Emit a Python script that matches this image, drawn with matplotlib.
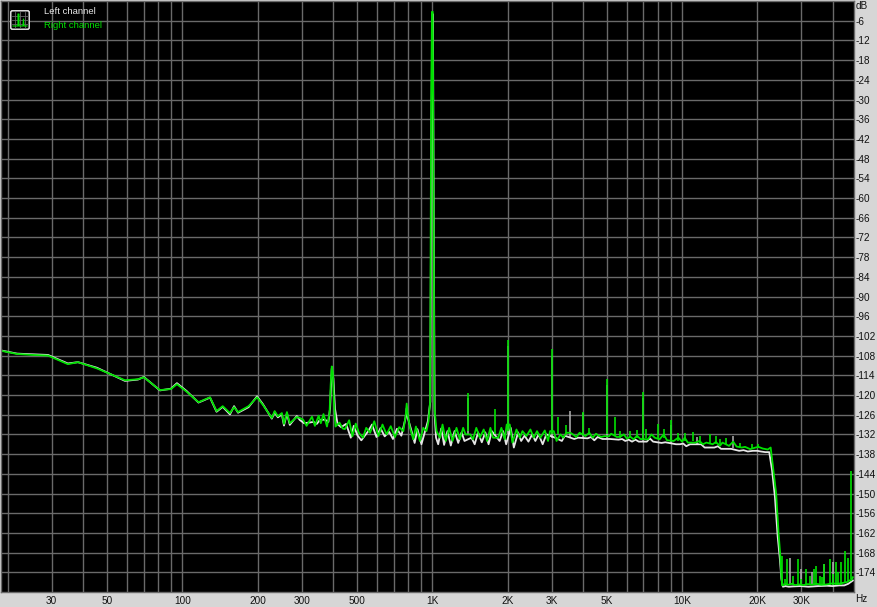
# imports
import matplotlib
matplotlib.use("Agg")
import matplotlib.pyplot as plt
from matplotlib.patches import FancyBboxPatch

# Values, (Hz, dB) pairs
right_curve = [
    (19, -106.6), (21.8, -107.5), (25.2, -107.8), (29, -108), (34.8, -110.6), (38.2, -110), (45.5, -111.9), (58.9, -115.5), (66.4, -115.2), (70.1, -114.6),
    (81.3, -118.5), (89.9, -118.2), (95.1, -116.7), (104, -119), (116, -122.2), (129, -120.7), (137, -124.9), (145, -123.4), (155, -125.5), (161, -123.7),
    (167, -125.2), (184, -123.4), (199, -120.7), (210, -123), (228, -127), (234, -124.9), (241, -126.5), (250, -125.5), (255, -128.8), (262, -125.2),
    (269, -128.6), (287, -126.7), (295, -127), (304, -127.5), (314, -129.4), (330, -126.6), (339, -129.4), (351, -126.3), (358, -128.6), (367, -125.8),
    (379, -129.6), (388, -125.5), (392, -117), (396, -111.3), (400, -113), (404, -122), (410, -129.6), (425, -128.4), (438, -130.2), (447, -130.4),
    (465, -127.7), (479, -132.6), (494, -128.7), (509, -131.6), (528, -133), (544, -130), (564, -131.5), (586, -128), (609, -132.5), (632, -129),
    (656, -132), (682, -129.5), (709, -132.8), (737, -129.8), (766, -131), (783, -126), (790, -122.6), (798, -126), (814, -130), (839, -133.5),
    (860, -129.6), (892, -134), (920, -130), (948, -131), (966, -128), (980, -122), (990, -30), (997, -3.3), (1004, -3.3), (1012, -60),
    (1020, -124), (1040, -131), (1073, -133), (1099, -129), (1133, -134), (1168, -130), (1205, -134), (1250, -130), (1289, -133.5), (1329, -130),
    (1358, -132), (1420, -132), (1455, -133.5), (1500, -130), (1550, -133), (1606, -130.5), (1657, -134), (1708, -130), (1750, -133), (1835, -133),
    (1890, -130), (1950, -133.5), (1985, -129), (2042, -129), (2093, -134.5), (2172, -130.5), (2240, -133), (2295, -131), (2381, -132.5), (2470, -130.5),
    (2546, -133), (2625, -131), (2708, -133), (2820, -130.8), (2905, -134), (2960, -131), (3063, -131), (3142, -134), (3260, -132), (3340, -133),
    (3440, -131.5), (3567, -131.5), (3655, -132), (3770, -132.8), (3885, -131.5), (4100, -132.5), (4250, -131.5), (4385, -133), (4520, -131.8), (4660, -132.5),
    (4740, -132.8), (4895, -132.5), (5090, -132.6), (5200, -131.8), (5480, -132.8), (5650, -132.7), (5840, -132), (6010, -133.3), (6200, -132.7), (6390, -133.5),
    (6600, -132.4), (6800, -133.4), (7300, -133.5), (7530, -132), (7770, -133), (8120, -133.5), (8430, -132), (8700, -133.8), (9240, -134), (9650, -133),
    (9990, -134.2), (10240, -133), (10530, -134.5), (11300, -134.5), (11730, -134), (12100, -135), (12500, -134.5), (13250, -135), (13640, -134.3), (14150, -135.5),
    (14500, -134.5), (15400, -135.5), (16000, -134.2), (16500, -135.7), (17310, -136), (17850, -135.8), (18720, -136.5), (19650, -136), (20200, -135.8), (21000, -136.3),
    (22000, -136.6), (22600, -136), (23100, -142), (23770, -150), (24300, -162), (24700, -169), (24930, -175), (25130, -178), (25900, -177.6), (26600, -177.8),
    (27500, -177.5), (28300, -177.9), (29500, -177.7), (30500, -177.9), (31800, -177.6), (33000, -177.8), (34500, -177.5), (36000, -177.8), (37800, -177.7), (39800, -177.4),
    (42000, -177.5), (44200, -177.2), (45600, -177), (46600, -176.5), (47500, -176.4), (48200, -175.5),
]

left_curve = [
    (19, -106.5), (21.8, -107.4), (25.2, -107.6), (29, -107.8), (34.8, -110.4), (38.2, -110), (45.5, -111.7), (58.9, -115.7), (66.4, -115.3), (70.1, -114.5),
    (81.3, -118.6), (89.9, -118.1), (95.1, -116.4), (104, -118.8), (116, -122.3), (129, -120.8), (137, -125.1), (145, -123.6), (155, -125.9), (161, -123.4),
    (167, -125.4), (184, -123.7), (199, -120.4), (210, -122.8), (228, -127.2), (234, -125.2), (241, -126.8), (250, -125.9), (255, -129.3), (262, -125.6),
    (269, -129.1), (287, -126.4), (295, -127.6), (307, -128.6), (322, -128.4), (335, -128.2), (345, -128.8), (355, -127.6), (372, -127.5), (384, -128.2),
    (390, -124), (396, -111.9), (402, -115), (408, -124.2), (418, -128.9), (432, -129.8), (452, -128.8), (472, -133), (485, -129.4), (502, -132.3),
    (520, -133.8), (552, -131.2), (574, -129), (598, -132.8), (620, -130.1), (645, -132.6), (672, -131.2), (696, -133.4), (722, -130.3), (752, -132.4),
    (782, -127), (790, -124), (798, -127), (826, -131), (850, -134.6), (872, -130.4), (905, -135), (936, -131), (960, -128), (982, -122),
    (992, -40), (1000, -4), (1006, -4), (1014, -70), (1022, -126), (1035, -133), (1056, -135), (1086, -130.2), (1115, -135.2), (1150, -131),
    (1186, -135.4), (1228, -131), (1270, -134.6), (1310, -131.4), (1345, -134), (1435, -133), (1478, -135), (1525, -131.4), (1578, -134.4), (1630, -131.4),
    (1680, -135), (1730, -131), (1860, -134), (1920, -131), (1975, -135), (2060, -130), (2120, -136), (2205, -131.4), (2268, -134), (2340, -132.4),
    (2425, -134.2), (2510, -132), (2585, -134), (2665, -132), (2765, -135), (2860, -132), (3100, -133), (3300, -134), (3390, -132.4), (3700, -133.4),
    (3830, -133), (4180, -133.2), (4320, -132.8), (4450, -133.8), (4590, -132.8), (4800, -133.4), (5150, -133.4), (5560, -133.6), (5750, -133.4), (5920, -134),
    (6100, -133.6), (6300, -134.2), (6500, -133.6), (6700, -134.2), (7220, -134.2), (7420, -133.2), (7650, -134.2), (8270, -134.6), (8560, -134.4), (9450, -135),
    (9800, -135), (10100, -134.8), (10380, -135.6), (10750, -135), (11900, -135), (12300, -136), (13450, -136), (13900, -135.6), (14300, -136.4), (15700, -136.4),
    (16900, -137), (17600, -136.8), (18300, -137.2), (19200, -137), (20000, -137), (20600, -137.2), (21500, -137.4), (22300, -137.4), (22900, -143), (23500, -151),
    (24100, -163), (24600, -170), (24950, -176), (25300, -178.4), (25900, -178.2), (26700, -178.4), (27800, -178.3), (29800, -178.2), (32000, -178.4), (35000, -178.2),
    (38000, -178.1), (40000, -178.2), (42500, -178), (44500, -178), (46200, -177.5), (48200, -176.5),
]

# Narrow harmonics, drawn as thin verticals: (Hz, top dB, foot dB)
right_spikes = [
    (1390, -119.4, -131), (1790, -124.2, -132), (2005, -103.2, -131), (3006, -106, -132), (3190, -126.7, -132),
    (3440, -129, -132), (4005, -125.3, -132), (4250, -130, -132), (5000, -115, -132), (5370, -126.8, -132.5),
    (5650, -131, -133), (6200, -131, -133), (6600, -130.8, -133), (7000, -119, -133), (7145, -130.5, -133),
    (7970, -128.8, -133), (8430, -130.5, -133), (9030, -127.5, -134), (9650, -131.5, -134), (10240, -131.5, -134),
    (11000, -131.3, -134), (11730, -132.5, -135), (12980, -132, -135), (13640, -132.5, -135), (14150, -133.5, -135),
    (15000, -133.2, -135), (17000, -134.5, -136), (19000, -134.8, -136), (20200, -134.8, -136),
    (25060, -169, -178), (25900, -176, -178), (26240, -170, -178), (27800, -175, -178), (29050, -170, -178),
    (30000, -176, -178), (31170, -173, -178), (32400, -175, -178), (33560, -173, -178), (34400, -172, -178),
    (35500, -175, -178), (36300, -175.5, -178), (37100, -171.5, -178), (38900, -170, -178), (40100, -174.5, -178),
    (41100, -171, -178), (42200, -174, -178), (43300, -171, -178), (45000, -167.5, -177), (46200, -169.5, -177),
    (47400, -143, -176),
]
left_spikes = [
    (1390, -121, -132), (2005, -105, -132), (3006, -108, -133), (3567, -125, -133), (4005, -125.5, -133),
    (5000, -117, -133), (7000, -121, -134), (9030, -129, -135), (11500, -132.8, -135), (16000, -132.4, -136),
    (27060, -169.5, -178), (29800, -173, -178), (33000, -174, -178), (37100, -171.5, -178), (40000, -171, -178),
]

grid_hz = [20, 30, 40, 50, 60, 70, 80, 90, 100, 200, 300, 400, 500, 600, 700, 800, 900, 1000,
           2000, 3000, 4000, 5000, 6000, 7000, 8000, 9000, 10000, 20000, 30000, 40000]
grid_labels = ["", "30", "", "50", "", "", "", "", "100", "200", "300", "", "500", "", "", "", "", "1K",
               "2K", "3K", "", "5K", "", "", "", "", "10K", "20K", "30K", ""]
db_ticks = list(range(-174, 0, 6))
db_labels = [str(d) for d in db_ticks]

plt.rcParams['font.family'] = ['Liberation Sans', 'DejaVu Sans']

W, H = 877, 607
LEFT_COLOR = '#e6e6e6'
RIGHT_COLOR = '#00e000'
fig = plt.figure(figsize=(W / 100, H / 100), dpi=100, facecolor='#d6d6d6')

# Plot area in pixels: x 1..854, y 1..592
ax = fig.add_axes([1 / W, 1 - 592 / H, 853 / W, 591 / H], facecolor='black')
ax.set_xscale('log')
ax.set_xlim(18.8, 48700)
ax.set_ylim(-180, 0)
ax.set_xticks(grid_hz)
ax.set_xticklabels(grid_labels, fontsize=7.2, color='#111111')
ax.minorticks_off()
ax.yaxis.tick_right()
ax.set_yticks(db_ticks)
ax.set_yticklabels(db_labels, fontsize=7.2, color='#111111')
ax.tick_params(axis='x', length=0, pad=3)
ax.tick_params(axis='y', length=0, pad=1)
ax.grid(True, color='#6a6a6a', linewidth=1.0)
ax.set_axisbelow(True)
for side in ax.spines:
    ax.spines[side].set_color('#6a6a6a')
    ax.spines[side].set_linewidth(1.0)

# Left channel goes underneath, right channel on top
left_hz, left_db = zip(*left_curve)
right_hz, right_db = zip(*right_curve)
sl_hz, sl_top, sl_foot = zip(*left_spikes)
sr_hz, sr_top, sr_foot = zip(*right_spikes)
ax.vlines(sl_hz, sl_foot, sl_top, color='#b4b4b4', linewidth=1.1)
ax.plot(left_hz, left_db, color=LEFT_COLOR, linewidth=1.3)
ax.vlines(sr_hz, sr_foot, sr_top, color=RIGHT_COLOR, linewidth=1.2)
ax.plot(right_hz, right_db, color=RIGHT_COLOR, linewidth=1.3)

# Unit labels and channel names
fig.text(856 / W, 1 - 6 / H, "dB", fontsize=7.2, color='#111111', va='center')
fig.text(855 / W, 1 - 599 / H, "Hz", fontsize=7.2, color='#111111', va='center')
fig.text(44 / W, 1 - 12 / H, "Left channel", fontsize=6.8, color=LEFT_COLOR, va='center')
fig.text(44 / W, 1 - 25 / H, "Right channel", fontsize=6.8, color=RIGHT_COLOR, va='center')

# Small analyser icon in the corner
icon = fig.add_axes([10 / W, 1 - 30 / H, 20 / W, 20 / H], facecolor='black')
icon.set_xlim(0, 20)
icon.set_ylim(0, 20)
icon.axis('off')
icon.add_patch(FancyBboxPatch((0.7, 0.7), 18.6, 18.6, boxstyle='round,pad=0,rounding_size=2',
                              facecolor='black', edgecolor='#d8d8d8', linewidth=1.2))
for gx in [5, 10, 15]:
    icon.plot([gx, gx], [2, 18], color='#666666', linewidth=0.6)
for gy in [6, 10, 14]:
    icon.plot([2, 18], [gy, gy], color='#666666', linewidth=0.6)
icon.plot([3, 8, 8, 9, 9, 13, 13.5, 14, 17], [4, 4, 16, 16, 4, 4, 11, 4, 4], color=RIGHT_COLOR, linewidth=0.8)

fig.savefig("out.png", dpi=100, facecolor=fig.get_facecolor())
